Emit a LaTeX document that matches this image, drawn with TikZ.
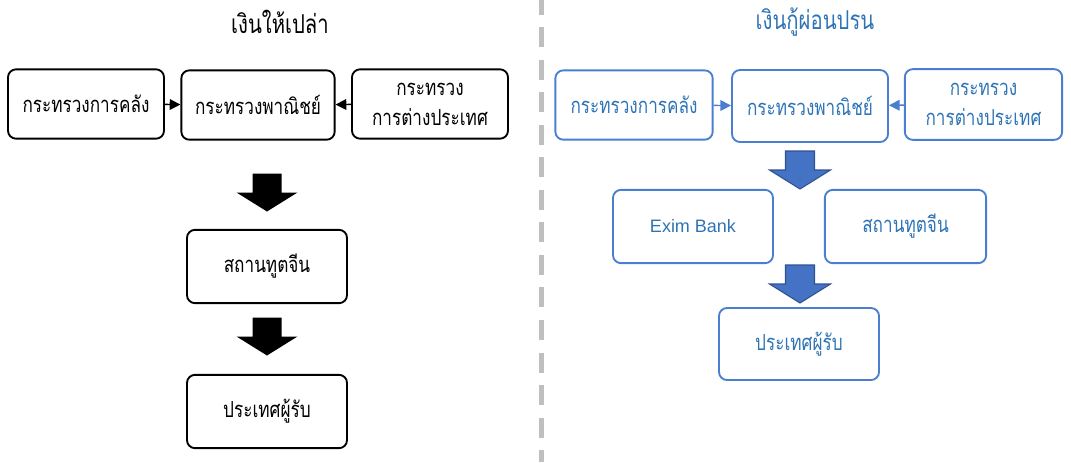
\documentclass[tikz,border=0pt]{standalone}
\usepackage{fontspec}
\setmainfont{Liberation Sans}
\newfontfamily\thaifont[Script=Thai, FakeStretch=0.78]{Loma}
\usetikzlibrary{arrows.meta,calc}
\definecolor{boxblue}{RGB}{74,126,208}
\definecolor{textblue}{RGB}{46,116,181}
\definecolor{arrowblue}{RGB}{68,114,196}
\definecolor{arrowedge}{RGB}{47,82,143}
\definecolor{splitgray}{RGB}{191,191,191}
\tikzset{
    orgbox/.style={draw, rounded corners=6pt, line width=1.4pt, align=center,
        minimum width=117pt, minimum height=52pt, font=\thaifont\fontsize{16.5}{22.5}\selectfont},
    grantbox/.style={orgbox, draw=black, text=black},
    loanbox/.style={orgbox, draw=boxblue, text=textblue},
    headline/.style={font=\thaifont\fontsize{19.5}{23}\selectfont},
    downblock/.pic={
        \path[pic actions] (-14.5,-19) -- (14.5,-19) -- (14.5,0) -- (30.5,0)
            -- (0,19) -- (-30.5,0) -- (-14.5,0) -- cycle;
    }
}
\begin{document}
\begin{tikzpicture}[x=0.75pt, y=-0.75pt]
    \useasboundingbox (0,0) rectangle (1071,462);

    % dividing line
    \draw[splitgray, line width=3.4pt, dash pattern=on 15pt off 9.4pt, dash phase=4pt]
        (541.5,0) -- (541.5,462);

    % grant side
    \node[headline] (titleL) at (280,22) {เงินให้เปล่า};
    \node[grantbox] (finL) at (86,104) {กระทรวงการคลัง};
    \node[grantbox, minimum width=115pt] (comL) at (258,105) {กระทรวงพาณิชย์};
    \node[grantbox] (forL) at (430,104) {กระทรวง\\การต่างประเทศ};
    \node[grantbox, minimum width=120pt, minimum height=55pt] (embL) at (267,266.5) {สถานทูตจีน};
    \node[grantbox, minimum width=120pt, minimum height=55pt] (recL) at (267,411.5) {ประเทศผู้รับ};

    \draw[-{Triangle[length=8pt, width=8pt]}, line width=1.1pt] (finL) -- (comL);
    \draw[-{Triangle[length=8pt, width=8pt]}, line width=1.1pt] (forL) -- (comL);
    \pic[fill=black] at (267,192.5) {downblock};
    \pic[fill=black] at (267,336.5) {downblock};

    % loan side
    \node[headline, text=textblue] (titleR) at (815,22) {เงินกู้ผ่อนปรน};
    \node[loanbox, minimum width=118pt] (finR) at (634,105) {กระทรวงการคลัง};
    \node[loanbox, minimum height=54pt] (comR) at (810,106) {กระทรวงพาณิชย์};
    \node[loanbox, minimum width=118pt, minimum height=53pt] (forR) at (983.5,104.5) {กระทรวง\\การต่างประเทศ};
    \node[loanbox, minimum width=120pt, minimum height=55pt, font=\fontsize{13.5}{16}\selectfont] (exim) at (693,226.5) {Exim Bank};
    \node[loanbox, minimum width=121pt, minimum height=55pt] (embR) at (905.5,226.5) {สถานทูตจีน};
    \node[loanbox, minimum width=120pt, minimum height=54pt] (recR) at (799,344) {ประเทศผู้รับ};

    \draw[-{Triangle[length=8pt, width=8pt]}, line width=1.1pt, boxblue] (finR) -- (comR);
    \draw[-{Triangle[length=8pt, width=8pt]}, line width=1.1pt, boxblue] (forR) -- (comR);
    \pic[fill=arrowblue, draw=arrowedge, line width=0.8pt] at (800,170) {downblock};
    \pic[fill=arrowblue, draw=arrowedge, line width=0.8pt] at (800,284) {downblock};
\end{tikzpicture}
\end{document}
